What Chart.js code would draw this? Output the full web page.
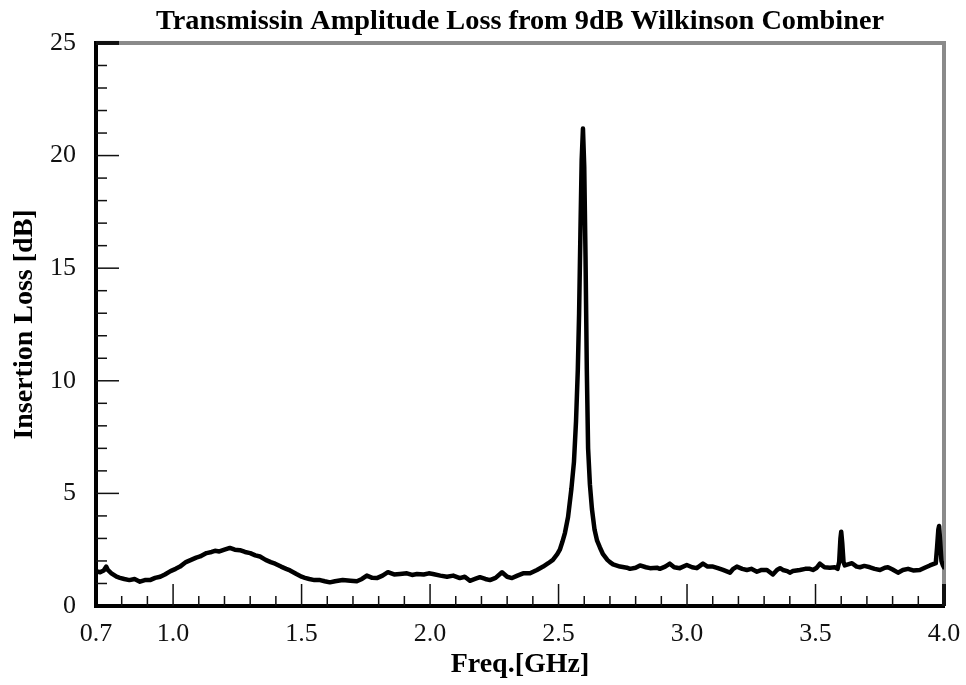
<!DOCTYPE html>
<html><head><meta charset="utf-8">
<script src="https://cdn.jsdelivr.net/npm/chart.js@4.4.1/dist/chart.umd.min.js"></script>
<style>html,body{margin:0;padding:0;background:#fff}#wrap{width:966px;height:685px}</style>
</head><body><div id="wrap"><canvas id="c" width="966" height="685"></canvas></div>
<script>
const chartTitle = 'Transmissin Amplitude Loss from 9dB Wilkinson Combiner';
const xAxisTitle = 'Freq.[GHz]';
const yAxisTitle = 'Insertion Loss [dB]';
const xTickLabels = [0.7, 1.0, 1.5, 2.0, 2.5, 3.0, 3.5, 4.0];
const yTickLabels = [0, 5, 10, 15, 20, 25];

const freqGHz = [
0.700,0.716,0.730,0.740,0.746,0.760,0.780,0.793,0.810,0.830,0.850,0.871,0.890,0.910,0.930,0.950,0.968,0.990,
1.010,1.027,1.050,1.070,1.090,1.105,1.130,1.150,1.163,1.180,1.200,1.221,1.240,1.260,1.280,1.300,1.320,1.338,
1.360,1.380,1.397,1.420,1.440,1.455,1.480,1.500,1.513,1.530,1.550,1.572,1.590,1.610,1.630,1.660,1.690,1.715,
1.735,1.754,1.775,1.793,1.815,1.836,1.860,1.883,1.910,1.930,1.949,1.975,1.995,2.011,2.040,2.066,2.090,2.116,
2.135,2.155,2.175,2.194,2.215,2.233,2.255,2.280,2.300,2.319,2.340,2.362,2.389,2.416,2.440,2.460,2.478,2.495,
2.505,2.515,2.525,2.537,2.550,2.560,2.568,2.575,2.580,2.585,2.590,2.595,2.600,2.605,2.610,2.615,2.622,2.630,
2.640,2.650,2.661,2.673,2.690,2.700,2.712,2.739,2.766,2.778,2.800,2.817,2.840,2.856,2.883,2.894,2.915,2.933,
2.950,2.972,2.999,3.020,3.038,3.062,3.080,3.101,3.120,3.140,3.167,3.180,3.194,3.215,3.233,3.250,3.272,3.290,
3.311,3.334,3.350,3.362,3.373,3.390,3.400,3.412,3.439,3.460,3.478,3.490,3.505,3.517,3.535,3.556,3.575,3.586,
3.592,3.597,3.600,3.604,3.609,3.614,3.642,3.660,3.673,3.690,3.712,3.730,3.751,3.770,3.782,3.800,3.821,3.840,
3.860,3.880,3.906,3.925,3.945,3.968,3.973,3.978,3.981,3.985,3.990,3.996,4.000
];
const insertionLossDB = [
1.55,1.50,1.58,1.75,1.60,1.45,1.30,1.25,1.20,1.15,1.20,1.08,1.15,1.15,1.25,1.30,1.40,1.55,
1.65,1.75,1.95,2.05,2.15,2.20,2.35,2.40,2.45,2.42,2.50,2.58,2.50,2.48,2.40,2.35,2.25,2.20,
2.05,1.95,1.88,1.75,1.65,1.58,1.42,1.30,1.25,1.20,1.15,1.15,1.10,1.05,1.10,1.15,1.12,1.10,
1.20,1.35,1.25,1.24,1.35,1.50,1.40,1.42,1.45,1.38,1.42,1.40,1.45,1.42,1.35,1.30,1.35,1.24,
1.30,1.12,1.20,1.28,1.20,1.15,1.25,1.50,1.30,1.24,1.35,1.45,1.45,1.60,1.75,1.90,2.05,2.30,
2.50,2.85,3.25,3.95,5.20,6.40,8.20,10.5,13.0,16.5,19.8,21.2,19.5,15.5,10.5,7.00,5.40,4.30,
3.40,2.90,2.60,2.30,2.05,1.95,1.85,1.75,1.70,1.65,1.70,1.80,1.72,1.68,1.70,1.65,1.75,1.88,
1.72,1.68,1.82,1.72,1.68,1.88,1.75,1.75,1.68,1.60,1.48,1.65,1.75,1.65,1.60,1.65,1.52,1.60,
1.60,1.40,1.60,1.68,1.60,1.55,1.48,1.55,1.60,1.65,1.65,1.60,1.70,1.88,1.72,1.70,1.72,1.65,
1.95,3.00,3.30,2.80,1.95,1.80,1.90,1.75,1.72,1.78,1.72,1.65,1.60,1.70,1.72,1.62,1.48,1.60,
1.65,1.58,1.60,1.70,1.80,1.90,2.60,3.40,3.55,2.90,2.00,1.80,1.72
];

const FONT = "'Liberation Serif','Times New Roman',serif";

const frameTicks = {
  id: 'frameTicks',
  beforeDatasetsDraw(chart) {
    const {ctx, chartArea: a, scales: {x, y}} = chart;
    ctx.save();
    ctx.lineCap = 'butt';
    ctx.strokeStyle = '#8a8a8a';
    ctx.lineWidth = 4;
    ctx.beginPath();
    ctx.moveTo(a.left, a.top);
    ctx.lineTo(a.right, a.top);
    ctx.lineTo(a.right, a.bottom);
    ctx.stroke();
    ctx.strokeStyle = '#111';
    const yMax = yTickLabels[yTickLabels.length - 1];
    for (let v = 1; v <= yMax; v++) {
      const py = y.getPixelForValue(v);
      const major = yTickLabels.includes(v);
      ctx.lineWidth = (v === yMax) ? 4 : 1.5;
      ctx.beginPath();
      ctx.moveTo(a.left, py);
      ctx.lineTo(a.left + (major ? 23 : 11), py);
      ctx.stroke();
    }
    const x0 = Math.round(xTickLabels[0] * 10), x1 = Math.round(xTickLabels[xTickLabels.length - 1] * 10);
    for (let i = x0 + 1; i <= x1; i++) {
      const v = i / 10;
      const px = x.getPixelForValue(v);
      const major = xTickLabels.some(t => Math.abs(t - v) < 1e-6);
      ctx.lineWidth = (i === x1) ? 4 : 1.5;
      ctx.beginPath();
      ctx.moveTo(px, a.bottom);
      ctx.lineTo(px, a.bottom - (major ? 22 : 10));
      ctx.stroke();
    }
    ctx.restore();
  }
};

new Chart(document.getElementById('c'), {
  type: 'line',
  data: {
    datasets: [{
      data: freqGHz.map((f, i) => ({x: f, y: insertionLossDB[i]})),
      borderColor: '#000',
      borderWidth: 4.5,
      pointRadius: 0,
      tension: 0,
      borderJoinStyle: 'round',
      borderCapStyle: 'round'
    }]
  },
  options: {
    responsive: false,
    animation: false,
    layout: {padding: {left: 0, right: 22, top: 0, bottom: 0}},
    plugins: {
      legend: {display: false},
      tooltip: {enabled: false},
      title: {
        display: true,
        text: chartTitle,
        fullSize: false,
        color: '#000',
        font: {family: FONT, size: 28.3, weight: 'bold', lineHeight: 1.2},
        padding: {top: 5, bottom: 4}
      }
    },
    scales: {
      x: {
        type: 'linear',
        min: xTickLabels[0],
        max: xTickLabels[xTickLabels.length - 1],
        afterBuildTicks: s => { s.ticks = xTickLabels.map(v => ({value: v})); },
        afterFit: s => { s.height = 79; s.paddingLeft = 0; s.paddingRight = 0; },
        grid: {display: false, drawTicks: false},
        border: {display: true, color: '#000', width: 4},
        ticks: {
          color: '#111', padding: 13, maxRotation: 0, autoSkip: false,
          font: {family: FONT, size: 26},
          callback: v => Number(v).toFixed(1)
        },
        title: {
          display: true, text: xAxisTitle, color: '#000',
          font: {family: FONT, size: 28, weight: 'bold', lineHeight: 1.2},
          padding: {top: 0, bottom: 3}
        }
      },
      y: {
        type: 'linear',
        min: yTickLabels[0],
        max: yTickLabels[yTickLabels.length - 1],
        afterBuildTicks: s => { s.ticks = yTickLabels.map(v => ({value: v})); },
        afterFit: s => { s.width = 96; },
        grid: {display: false, drawTicks: false},
        border: {display: true, color: '#000', width: 4},
        ticks: {
          color: '#111', padding: 20,
          font: {family: FONT, size: 26}
        },
        title: {
          display: true, text: yAxisTitle, color: '#000',
          font: {family: FONT, size: 28, weight: 'bold', lineHeight: 1.2},
          padding: {top: 8, bottom: 0}
        }
      }
    }
  },
  plugins: [frameTicks]
});
</script>
</body></html>
